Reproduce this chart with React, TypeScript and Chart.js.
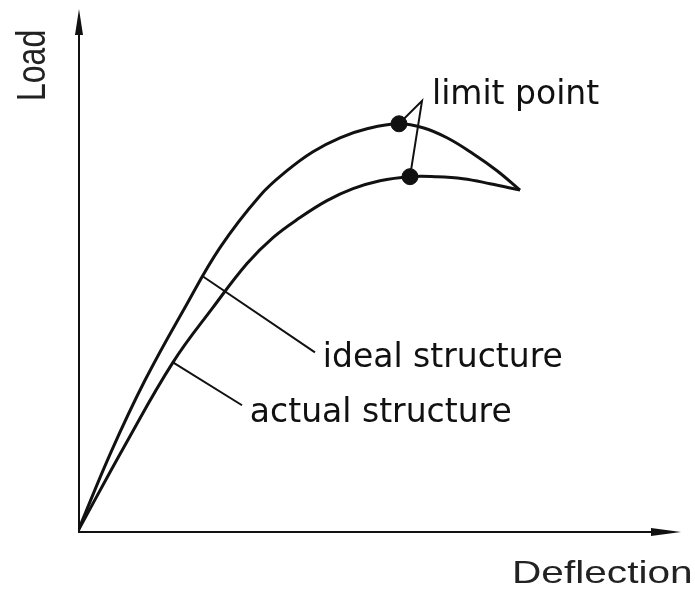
import { useEffect, useRef } from "react";
import { Chart, registerables } from "chart.js";

Chart.register(...registerables);

// Load–deflection curves (arbitrary units, 0–10 on both axes)
const idealDeflection = [0, 0.547, 1.111, 1.774, 2.355, 3.018, 3.466, 3.897, 4.345, 4.793, 5.323, 5.721, 6.119, 6.551, 6.949, 7.33];
const idealLoad = [0, 1.511, 2.887, 4.283, 5.43, 6.424, 6.902, 7.266, 7.533, 7.706, 7.801, 7.725, 7.533, 7.228, 6.902, 6.53];

const actualDeflection = [0, 0.779, 1.575, 2.239, 2.803, 3.234, 3.682, 4.129, 4.561, 5.008, 5.506, 5.92, 6.385, 6.833, 7.33];
const actualLoad = [0, 1.644, 3.231, 4.283, 5.124, 5.621, 6.004, 6.329, 6.558, 6.711, 6.788, 6.788, 6.75, 6.654, 6.53];

// Limit points: [ideal, actual]
const limitDeflection = [5.323, 5.506];
const limitLoad = [7.801, 6.788];

// Annotation leaders
const limitLeaderX = [5.323, 5.705, 5.506];
const limitLeaderY = [7.801, 8.241, 6.788];
const idealLeaderX = [2.073, 3.93];
const idealLeaderY = [4.875, 3.423];
const actualLeaderX = [1.575, 2.72];
const actualLeaderY = [3.231, 2.409];

// Annotation texts and their anchors (data units, left / baseline)
const noteTexts = ["limit point", "ideal structure", "actual structure"];
const noteX = [5.87, 4.06, 2.85];
const noteY = [8.18, 3.14, 2.08];

const xTitle = "Deflection";
const yTitle = "Load";

const INK = "#111";

const pts = (xs: number[], ys: number[]) => xs.map((x, i) => ({ x, y: ys[i] }));

function drawText(
  ctx: CanvasRenderingContext2D,
  text: string,
  x: number,
  y: number,
  font: string,
  sx: number,
  sy: number,
  rot: number,
  color: string
) {
  ctx.save();
  ctx.translate(x, y);
  ctx.rotate(rot);
  ctx.scale(sx, sy);
  ctx.font = font;
  ctx.fillStyle = color;
  ctx.textAlign = "left";
  ctx.textBaseline = "alphabetic";
  ctx.fillText(text, 0, 0);
  ctx.restore();
}

const sketchPlugin = {
  id: "sketchAxes",
  beforeDatasetsDraw(chart: any) {
    const { ctx, scales } = chart;
    const xs = scales.x;
    const ys = scales.y;
    const x0 = xs.getPixelForValue(0);
    const y0 = ys.getPixelForValue(0);
    const xEnd = xs.getPixelForValue(10);
    const yEnd = ys.getPixelForValue(10);
    ctx.save();
    ctx.strokeStyle = INK;
    ctx.fillStyle = INK;
    ctx.lineWidth = 2;
    ctx.beginPath();
    ctx.moveTo(x0 + 1, y0 + 1);
    ctx.lineTo(x0 + 1, yEnd + 10);
    ctx.moveTo(x0, y0 + 1);
    ctx.lineTo(xEnd - 10, y0 + 1);
    ctx.stroke();
    // arrow heads
    ctx.beginPath();
    ctx.moveTo(x0 + 1, yEnd);
    ctx.lineTo(x0 + 5, yEnd + 26);
    ctx.lineTo(x0 - 3, yEnd + 26);
    ctx.closePath();
    ctx.fill();
    ctx.beginPath();
    ctx.moveTo(xEnd, y0 + 1);
    ctx.lineTo(xEnd - 30, y0 + 5);
    ctx.lineTo(xEnd - 30, y0 - 3);
    ctx.closePath();
    ctx.fill();
    ctx.restore();
  },
  afterDatasetsDraw(chart: any) {
    const { ctx, scales, chartArea } = chart;
    const xs = scales.x;
    const ys = scales.y;
    noteTexts.forEach((t, i) => {
      drawText(
        ctx,
        t,
        xs.getPixelForValue(noteX[i]),
        ys.getPixelForValue(noteY[i]),
        "33px 'DejaVu Sans'",
        1,
        1,
        0,
        INK
      );
    });
    drawText(ctx, xTitle, chartArea.right - 169, chartArea.bottom + 52, "32px 'Liberation Sans'", 1.27, 1, 0, "#222");
    drawText(ctx, yTitle, chartArea.left - 33, chartArea.top + 92, "32px 'Liberation Sans'", 1, 1.27, -Math.PI / 2, "#222");
  },
};

export default function App() {
  const ref = useRef<HTMLCanvasElement | null>(null);

  useEffect(() => {
    if (!ref.current) return;
    const curve = {
      showLine: true,
      borderColor: INK,
      borderWidth: 3,
      pointRadius: 0,
      tension: 0.4,
    };
    const leader = {
      showLine: true,
      borderColor: INK,
      borderWidth: 2,
      pointRadius: 0,
      tension: 0,
    };
    const chart = new Chart(ref.current, {
      type: "scatter",
      data: {
        datasets: [
          { label: "ideal structure", data: pts(idealDeflection, idealLoad), ...curve },
          { label: "actual structure", data: pts(actualDeflection, actualLoad), ...curve },
          { label: "limit leader", data: pts(limitLeaderX, limitLeaderY), ...leader },
          { label: "ideal leader", data: pts(idealLeaderX, idealLeaderY), ...leader },
          { label: "actual leader", data: pts(actualLeaderX, actualLeaderY), ...leader },
          {
            label: "limit point",
            data: pts(limitDeflection, limitLoad),
            showLine: false,
            pointRadius: 8,
            pointBackgroundColor: INK,
            pointBorderColor: INK,
          },
        ],
      },
      options: {
        animation: false,
        responsive: false,
        maintainAspectRatio: false,
        layout: { padding: { left: 78, right: 14, top: 8, bottom: 59 } },
        scales: {
          x: { type: "linear", min: 0, max: 10, display: false },
          y: { type: "linear", min: 0, max: 10, display: false },
        },
        plugins: { legend: { display: false }, tooltip: { enabled: false } },
      },
      plugins: [sketchPlugin],
    });
    return () => chart.destroy();
  }, []);

  return (
    <div style={{ position: "fixed", left: 0, top: 0, width: 695, height: 590, background: "#fff" }}>
      <canvas ref={ref} width={695} height={590} />
    </div>
  );
}
